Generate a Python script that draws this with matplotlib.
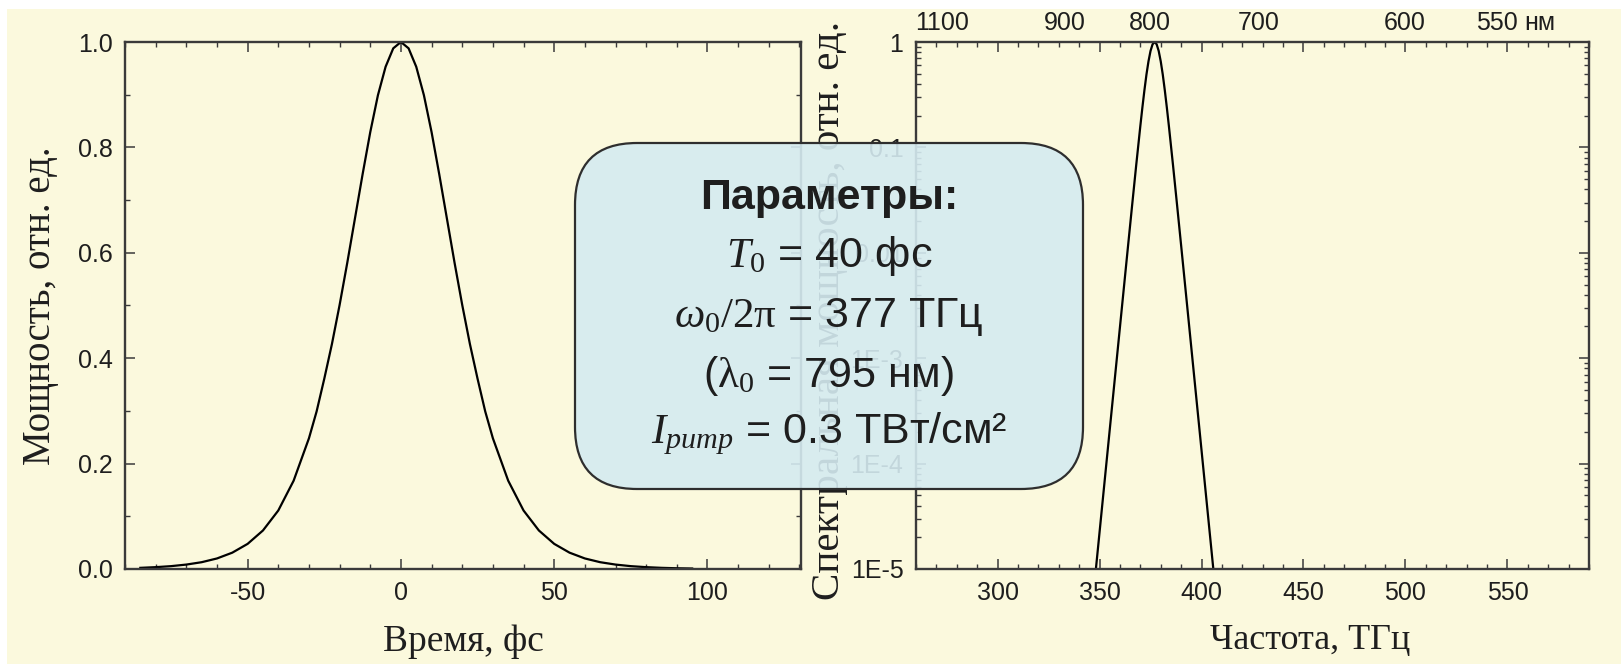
import numpy as np
import matplotlib
matplotlib.use("Agg")
import matplotlib.pyplot as plt
from matplotlib.patches import FancyBboxPatch, Rectangle
from matplotlib.ticker import MultipleLocator, LogLocator, NullFormatter
from matplotlib.transforms import IdentityTransform

# =========================
# DATA
# =========================
time_fs = [-85, -80, -75, -70, -65, -60, -55, -50, -45, -40, -35, -30,
           -27.5, -25, -22.5, -20, -17.5, -15, -12.5, -10, -7.5, -5, -2.5, 0,
           2.5, 5, 7.5, 10, 12.5, 15, 17.5, 20, 22.5, 25, 27.5, 30,
           35, 40, 45, 50, 55, 60, 65, 70, 75, 80, 85, 90, 95]
power = [0.0022, 0.0035, 0.0054, 0.0084, 0.0129, 0.020, 0.031, 0.0477, 0.0731, 0.111, 0.1675, 0.248,
         0.299, 0.361, 0.427, 0.501, 0.581, 0.665, 0.749, 0.829, 0.899, 0.953, 0.988, 1.0,
         0.988, 0.953, 0.899, 0.829, 0.749, 0.665, 0.581, 0.501, 0.427, 0.361, 0.299, 0.248,
         0.1675, 0.111, 0.0731, 0.0477, 0.031, 0.020, 0.0129, 0.0084, 0.0054, 0.0035, 0.0022, 0.0014, 0.0009]

freq_thz = [348, 350, 352, 355, 358, 361, 364, 366, 368, 370, 371, 372, 373, 374, 375, 376, 377,
            378, 379, 380, 381, 382, 383, 384, 386, 388, 390, 393, 396, 399, 402, 404, 406]
spectrum = [9.1e-6, 2.23e-5, 5.47e-5, 2.10e-4, 8.03e-4, 3.08e-3, 1.176e-2, 2.855e-2, 6.85e-2, 0.1596,
            0.2386, 0.348, 0.491, 0.656, 0.823, 0.951, 1.0,
            0.951, 0.823, 0.656, 0.491, 0.348, 0.2386, 0.1596, 6.85e-2, 2.855e-2, 1.176e-2, 3.08e-3,
            8.03e-4, 2.10e-4, 5.47e-5, 2.23e-5, 9.1e-6]

spec_yticks = [1e-5, 1e-4, 1e-3, 1e-2, 1e-1, 1]
spec_ylabels = ["1E-5", "1E-4", "1E-3", "0.01", "0.1", "1"]
wavelength_nm = [1100, 900, 800, 700, 600, 550]

# =========================
# STYLE
# =========================
plt.rcParams['font.family'] = ['Liberation Sans', 'DejaVu Sans']
plt.rcParams['axes.unicode_minus'] = False
plt.rcParams['mathtext.fontset'] = 'custom'
plt.rcParams['mathtext.rm'] = 'Liberation Serif'
plt.rcParams['mathtext.it'] = 'Liberation Serif:italic'
plt.rcParams['mathtext.bf'] = 'Liberation Serif:bold'

cream = '#fbf9dd'
ink = '#1e1e1e'
spine_col = '#3a3a3a'
W, H = 1621, 664

fig = plt.figure(figsize=(W / 100, H / 100), dpi=100, facecolor='white')
fig.add_artist(Rectangle((7 / W, 0), 1, 1 - 9 / H, transform=fig.transFigure,
                         facecolor=cream, edgecolor='none', zorder=-10))

ax1 = fig.add_axes([125 / W, 1 - 569 / H, 676 / W, 527 / H])
ax2 = fig.add_axes([916 / W, 1 - 569 / H, 673 / W, 527 / H])


def style_axes(ax):
    ax.set_facecolor('none')
    for s in ax.spines.values():
        s.set_color(spine_col)
        s.set_linewidth(1.7)
    ax.tick_params(which='both', direction='in', top=True, right=True,
                   color=spine_col, labelsize=18, labelcolor=ink)
    ax.tick_params(which='major', length=7, width=1.1, pad=9)
    ax.tick_params(which='minor', length=3.5, width=1.0)


# =========================
# LEFT: time domain
# =========================
ax1.plot(time_fs, power, color='black', lw=1.6)
ax1.set_xlim(-90, 130.5)
ax1.set_ylim(0, 1)
ax1.set_xticks([-50, 0, 50, 100])
ax1.xaxis.set_minor_locator(MultipleLocator(10))
ax1.set_yticks([0.0, 0.2, 0.4, 0.6, 0.8, 1.0])
ax1.set_yticklabels(["0.0", "0.2", "0.4", "0.6", "0.8", "1.0"])
ax1.yaxis.set_minor_locator(MultipleLocator(0.1))
style_axes(ax1)
ax1.set_xlabel("Время, фс", family='Liberation Serif', fontsize=27, color=ink)
ax1.set_ylabel("Мощность, отн. ед.", family='Liberation Serif', fontsize=28, color=ink)
ax1.xaxis.set_label_coords(0.5, -0.105)
ax1.yaxis.set_label_coords(-0.098, 0.5)

# =========================
# RIGHT: spectrum
# =========================
ax2.plot(freq_thz, spectrum, color='black', lw=1.6)
ax2.set_yscale('log')
ax2.set_xlim(260, 590)
ax2.set_ylim(1e-5, 1)
ax2.set_xticks([300, 350, 400, 450, 500, 550])
ax2.xaxis.set_minor_locator(MultipleLocator(10))
ax2.set_yticks(spec_yticks)
ax2.set_yticklabels(spec_ylabels)
ax2.yaxis.set_minor_locator(LogLocator(base=10, subs=np.arange(2, 10)))
ax2.yaxis.set_minor_formatter(NullFormatter())
ax2.set_xlabel("Частота, ТГц", family='Liberation Serif', fontsize=26, color=ink)
ax2.set_ylabel("Спектральная мощность, отн. ед.", family='Liberation Serif', fontsize=29.5, color=ink)
ax2.xaxis.set_label_coords(0.585, -0.105)
ax2.yaxis.set_label_coords(-0.101, 0.49)

# top wavelength axis
ax_top = ax2.twiny()
ax_top.set_xlim(ax2.get_xlim())
wl_pos = [299792.458 / wl for wl in wavelength_nm]
ax_top.set_xticks(wl_pos)
ax_top.set_xticklabels([str(wl) for wl in wavelength_nm])
ax_top.tick_params(axis='x', length=0, pad=5, labelsize=18, labelcolor=ink)
for s in ax_top.spines.values():
    s.set_visible(False)
style_axes(ax2)
ax2.tick_params(top=True, labeltop=False)
ax2.annotate("нм", xy=(wl_pos[-1], 1), xycoords=('data', 'axes fraction'),
             xytext=(19, 5), textcoords='offset points', fontsize=18,
             ha='left', va='bottom', color=ink)

# =========================
# PARAMETER BOX
# =========================
box = FancyBboxPatch((575, H - 489), 508, 346,
                     boxstyle="round,pad=0,rounding_size=62",
                     transform=IdentityTransform(),
                     facecolor=(0.835, 0.922, 0.945, 0.9), edgecolor='#2e2e2e',
                     lw=1.6, zorder=5)
fig.add_artist(box)

cx = 829 / W
fs_box = 31
fig.text(cx, 1 - 198 / H, "Параметры:", fontsize=fs_box, fontweight='bold',
         ha='center', va='center', color=ink, zorder=6)
fig.text(cx, 1 - 256 / H, r"$T_{\mathit{0}}$ = 40 фс", fontsize=fs_box,
         ha='center', va='center', color=ink, zorder=6)
fig.text(cx, 1 - 317 / H, r"$\omega_{\mathit{0}}/2\mathrm{\pi}$ = 377 ТГц", fontsize=fs_box,
         ha='center', va='center', color=ink, zorder=6)
fig.text(cx, 1 - 376 / H, r"($\mathrm{\lambda}_0$ = 795 нм)", fontsize=fs_box,
         ha='center', va='center', color=ink, zorder=6)
fig.text(cx, 1 - 434 / H, r"$I_{pump}$ = 0.3 ТВт/см²", fontsize=fs_box,
         ha='center', va='center', color=ink, zorder=6)

fig.savefig("out.png", dpi=100, facecolor=fig.get_facecolor())
